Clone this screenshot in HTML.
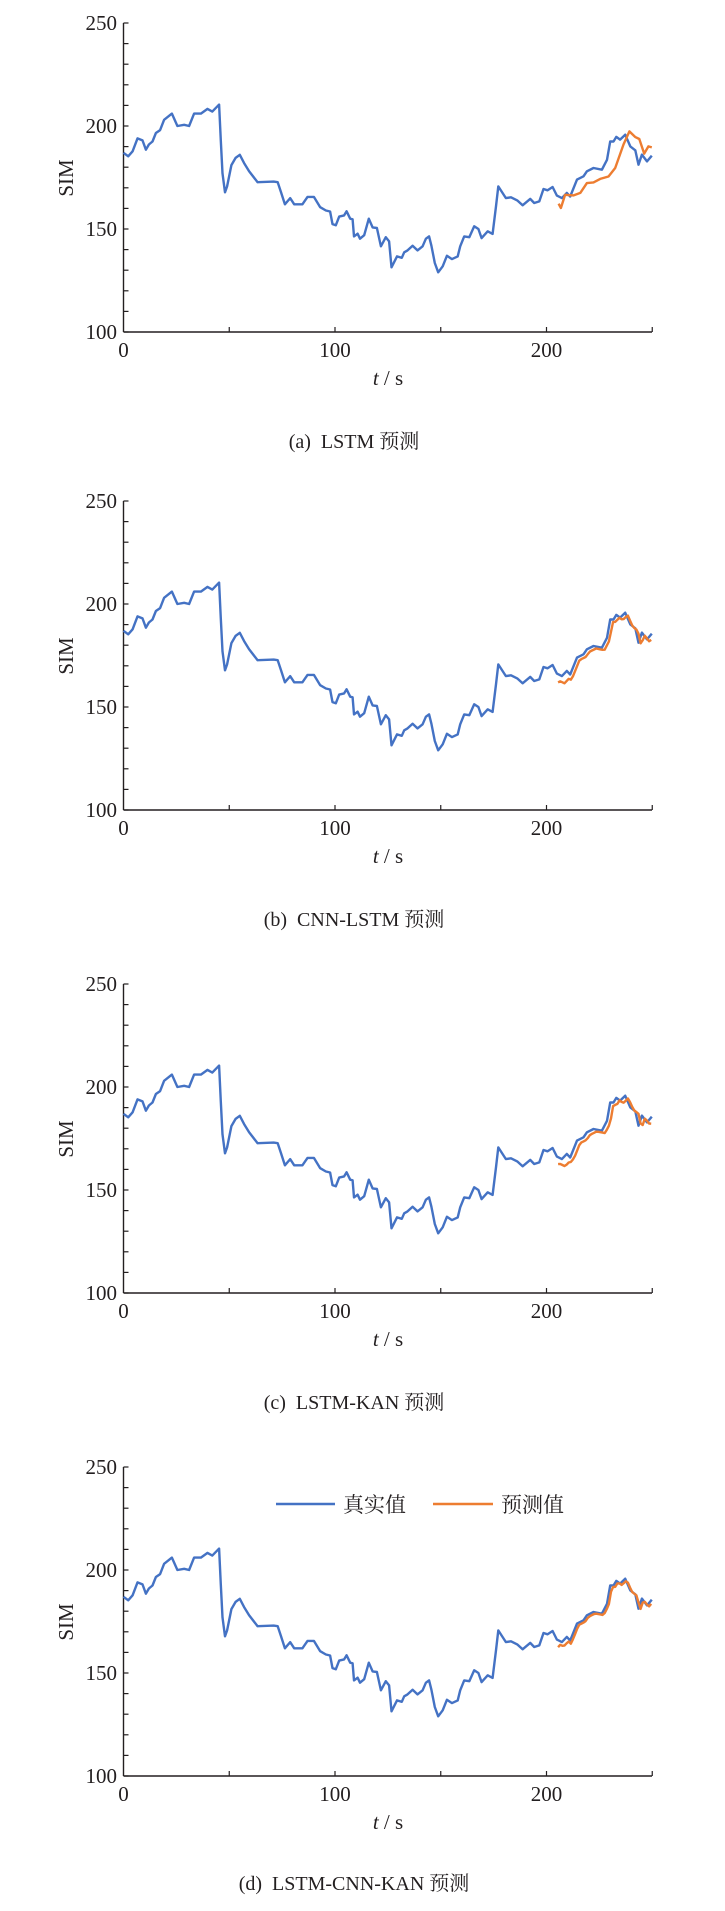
<!DOCTYPE html>
<html><head><meta charset="utf-8"><style>
html,body{margin:0;padding:0;background:#fff;}
svg text{font-family:"Liberation Serif","Noto Serif CJK SC","Noto Sans CJK SC",serif;fill:#231f20;white-space:pre;}
</style></head><body>
<svg id="s" width="725" height="1906" viewBox="0 0 725 1906" xmlns="http://www.w3.org/2000/svg">
<g id="p0" transform="translate(0,23)">
<text x="354" y="425" font-size="20" text-anchor="middle">(a)&#160;&#160;LSTM 预测</text>
</g>
<g id="p1" transform="translate(0,501)">
<text x="354" y="425" font-size="20" text-anchor="middle">(b)&#160;&#160;CNN-LSTM 预测</text>
</g>
<g id="p2" transform="translate(0,984)">
<text x="354" y="425" font-size="20" text-anchor="middle">(c)&#160;&#160;LSTM-KAN 预测</text>
</g>
<g id="p3" transform="translate(0,1467)">
<text x="354" y="423" font-size="20" text-anchor="middle">(d)&#160;&#160;LSTM-CNN-KAN 预测</text>
<line x1="276" y1="37" x2="335" y2="37" stroke="#4472c4" stroke-width="2.4"/>
<text x="343" y="45" font-size="21">真实值</text>
<line x1="433" y1="37" x2="493" y2="37" stroke="#ed7d31" stroke-width="2.4"/>
<text x="501" y="45" font-size="21">预测值</text>
</g>
</svg>
<script>
var B=[[0,187],[2.2,185.3],[4.3,187.7],[6.6,194],[9,193],[10.6,188.5],[12,191],[13.7,192.5],[15.3,196.6],[17.3,198],[19.2,203],[22.9,206],[25.5,200],[28.7,200.6],[31,200],[33.4,206],[36.6,206],[39.7,208.3],[42,207],[45.2,210.4],[46,193],[46.8,177],[48,167.8],[49,170.7],[51,181],[53,184.5],[55,186],[57,182],[59.4,178],[63.4,172.7],[71,173],[72.9,172.7],[74.4,168],[76.3,162],[78.8,165],[80.7,162],[84.6,162],[87,165.6],[90,165.6],[93,160.6],[95.7,159],[97.7,158.5],[98.8,152.4],[100.4,151.8],[102,156],[104.3,156.6],[105.5,158.6],[107.2,155],[108.3,154.7],[109,146.4],[110.7,147.7],[111.8,145.3],[113.8,147],[116,155],[117.8,150.8],[119.8,150.5],[121.7,141.6],[124,146],[125.6,144],[126.7,131.4],[129.3,136.7],[131.6,136],[132.7,138.7],[134.3,139.6],[136.7,141.9],[139,139.6],[141.4,141.6],[143,145.3],[144.5,146.4],[145.6,141.9],[147.2,133.5],[148.8,129],[150.9,131.9],[152.9,137],[155.3,135.4],[158,136.7],[159.2,141.6],[161.1,146.4],[163.5,146],[165.8,151.3],[167.8,150],[169.3,145.6],[172.2,148.9],[174.5,147.6],[176.1,161],[177.2,170.7],[180.8,165],[183.2,165.4],[186.3,163.8],[188.7,161.5],[192.3,164.6],[194.2,162.6],[196.6,163.4],[198.6,169.4],[200.5,168.8],[202.9,170.4],[204.9,166.2],[207.3,165],[209.6,167.5],[211.2,165.8],[214.4,174],[216,174.8],[217.5,175.6],[219.1,178],[222.2,179.6],[226.2,178.8],[228.6,183.6],[230.1,192.5],[231.7,192.5],[233,194.7],[234.8,193.4],[237.2,195.8],[239.6,190.1],[242,188.2],[243.5,181.2],[245.1,186.1],[247.5,182.8],[249.8,185.6]];
var OA=[[205.7,162.3],[206.8,160.2],[208.8,166.6],[212.8,166.3],[216,167.5],[219.1,172.3],[222.2,172.6],[225.4,174.3],[229.3,175.5],[232.5,179.6],[236.4,191],[239.2,197.4],[241.9,194.7],[243.9,193.7],[246.2,186.6],[248.2,190.1],[249.8,189.6]];
function interp(t){if(t<=B[0][0])return B[0][1];for(var i=1;i<B.length;i++){if(B[i][0]>=t){var a=B[i-1],b=B[i];return a[1]+(b[1]-a[1])*(t-a[0])/(b[0]-a[0]);}}return B[B.length-1][1];}
function X(t){return 123.5+t*2.115;}function Y(v){return (250-v)*309/150;}
function path(pts){return pts.map(function(p,i){return (i?'L':'M')+X(p[0]).toFixed(1)+','+Y(p[1]).toFixed(1);}).join('');}
function mkO(lag,k){var o=[];for(var t=205.5;t<=250;t+=1){var off=(t<212?3.5:1.2)*k;o.push([t,interp(t-lag)-off]);}o[0][1]-=2;return o;}
var NS='http://www.w3.org/2000/svg';
function el(g,n,a,txt){var e=document.createElementNS(NS,n);for(var k in a)e.setAttribute(k,a[k]);if(txt!==undefined)e.textContent=txt;g.appendChild(e);return e;}
var Os=[OA,mkO(1.2,1),mkO(1.5,1),mkO(0.8,0.6)];
for(var p=0;p<4;p++){var g=document.getElementById('p'+p);var c='#231f20';
 el(g,'line',{x1:123.5,y1:0,x2:123.5,y2:309,stroke:c,'stroke-width':1.4});
 el(g,'line',{x1:123.5,y1:309,x2:652,y2:309,stroke:c,'stroke-width':1.4});
 for(var v=100;v<=250;v+=10){el(g,'line',{x1:123.5,y1:Y(v),x2:128.5,y2:Y(v),stroke:c,'stroke-width':1.2});}
 [100,150,200,250].forEach(function(v){el(g,'text',{x:117,y:Y(v)+7,'font-size':21,'text-anchor':'end'},String(v));});
 for(var t=50;t<=250;t+=50){el(g,'line',{x1:X(t),y1:309,x2:X(t),y2:304,stroke:c,'stroke-width':1.2});}
 [0,100,200].forEach(function(t){el(g,'text',{x:X(t),y:334,'font-size':21,'text-anchor':'middle'},String(t));});
 var tl=el(g,'text',{x:388,y:362,'font-size':21,'text-anchor':'middle'});
 var ti=document.createElementNS(NS,'tspan');ti.setAttribute('font-style','italic');ti.textContent='t';tl.appendChild(ti);tl.appendChild(document.createTextNode(' / s'));
 el(g,'text',{x:0,y:0,'font-size':21,'text-anchor':'middle',transform:'translate(73,155) rotate(-90)'},'SIM');
 el(g,'path',{d:path(B),fill:'none',stroke:'#4472c4','stroke-width':2.4,'stroke-linejoin':'round'});
 el(g,'path',{d:path(Os[p]),fill:'none',stroke:'#ed7d31','stroke-width':2.4,'stroke-linejoin':'round'});
}
</script>
</body></html>
